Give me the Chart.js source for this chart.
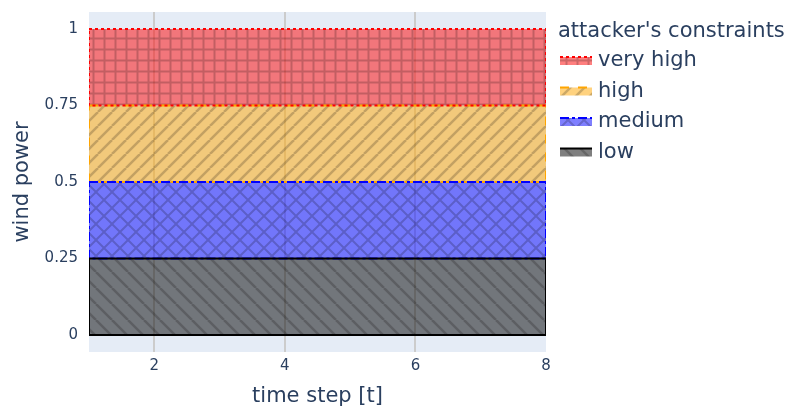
<!DOCTYPE html>
<html>
<head>
<meta charset="utf-8">
<script src="https://cdn.jsdelivr.net/npm/chart.js@4.4.0/dist/chart.umd.min.js"></script>
<style>
  body { margin: 0; background: #fff; }
</style>
</head>
<body>
<canvas id="myChart" width="793" height="408"></canvas>
<script>
// data
var timeSteps = [1, 2, 3, 4, 5, 6, 7, 8];
var baseLine = [0, 0, 0, 0, 0, 0, 0, 0];
var lowValues = [0.25, 0.25, 0.25, 0.25, 0.25, 0.25, 0.25, 0.25];
var mediumValues = [0.5, 0.5, 0.5, 0.5, 0.5, 0.5, 0.5, 0.5];
var highValues = [0.75, 0.75, 0.75, 0.75, 0.75, 0.75, 0.75, 0.75];
var veryHighValues = [1, 1, 1, 1, 1, 1, 1, 1];
var levelNames = ['very high', 'high', 'medium', 'low'];
var xTicks = [2, 4, 6, 8];
var yTicks = [0, 0.25, 0.5, 0.75, 1];
var yTickLabels = ['0', '0.25', '0.5', '0.75', '1'];

var textColor = '#2a3f5f';
var fontFamily = "'DejaVu Sans', Verdana, sans-serif";

// pattern tiles like plotly fillpattern
function makePattern(base, shape, size, lw) {
  var c = document.createElement('canvas');
  c.width = size; c.height = size;
  var g = c.getContext('2d');
  g.fillStyle = base;
  g.fillRect(0, 0, size, size);
  g.strokeStyle = 'rgba(0,0,0,0.2)';
  g.lineWidth = lw;
  g.beginPath();
  if (shape === '+') {
    g.moveTo(size / 2, 0); g.lineTo(size / 2, size);
    g.moveTo(0, size / 2); g.lineTo(size, size / 2);
  }
  if (shape === '/' || shape === 'x') {
    for (var k = -size; k <= size; k += size) {
      g.moveTo(k, size); g.lineTo(k + size, 0);
    }
  }
  if (shape === '\\' || shape === 'x') {
    for (var k2 = -size; k2 <= size; k2 += size) {
      g.moveTo(k2, 0); g.lineTo(k2 + size, size);
    }
  }
  g.stroke();
  return g.createPattern(c, 'repeat');
}

// closed band between two value rows
function band(upper, lower) {
  var pts = [];
  for (var i = 0; i < timeSteps.length; i++) pts.push({x: timeSteps[i], y: upper[i]});
  for (var j = timeSteps.length - 1; j >= 0; j--) pts.push({x: timeSteps[j], y: lower[j]});
  pts.push({x: timeSteps[0], y: upper[0]});
  return pts;
}

var datasets = [
  {
    label: levelNames[0],
    data: band(veryHighValues, highValues),
    backgroundColor: makePattern('rgba(255,0,0,0.5)', '+', 11, 2),
    borderColor: '#ff0000',
    borderDash: [3, 3],
    order: 2
  },
  {
    label: levelNames[1],
    data: band(highValues, mediumValues),
    backgroundColor: makePattern('rgba(255,165,0,0.5)', '/', 14, 2.5),
    borderColor: '#ffa500',
    borderDash: [9, 9],
    order: 3
  },
  {
    label: levelNames[2],
    data: band(mediumValues, lowValues),
    backgroundColor: makePattern('rgba(0,0,255,0.5)', 'x', 16, 2),
    borderColor: '#0000ff',
    borderDash: [9, 3, 3, 3],
    order: 1
  },
  {
    label: levelNames[3],
    data: band(lowValues, baseLine),
    backgroundColor: makePattern('rgba(0,0,0,0.5)', '\\', 16, 2.5),
    borderColor: '#000000',
    borderDash: [],
    order: 0
  }
];
datasets.forEach(function (d) {
  d.showLine = true;
  d.fill = 'shape';
  d.borderWidth = 2;
  d.pointRadius = 0;
  d.tension = 0;
  d.clip = 0;
});

// plot background
var plotBg = {
  id: 'plotBg',
  beforeDraw: function (chart) {
    var a = chart.chartArea, ctx = chart.ctx;
    ctx.save();
    ctx.fillStyle = '#E5ECF6';
    ctx.fillRect(a.left, a.top, a.right - a.left, a.bottom - a.top);
    ctx.restore();
  }
};

// legend drawn by hand so it sits where plotly puts it
var sideLegend = {
  id: 'sideLegend',
  afterDraw: function (chart) {
    var ctx = chart.ctx;
    ctx.save();
    ctx.font = '21px ' + fontFamily;
    ctx.fillStyle = textColor;
    ctx.textBaseline = 'middle';
    ctx.fillText("attacker's constraints", 558, 32);
    chart.data.datasets.forEach(function (ds, i) {
      var cy = 61 + i * 30.5;
      ctx.fillStyle = ds.backgroundColor;
      ctx.fillRect(560, cy - 4, 32, 8);
      ctx.strokeStyle = ds.borderColor;
      ctx.lineWidth = 2;
      ctx.setLineDash(ds.borderDash);
      ctx.beginPath();
      ctx.moveTo(560, cy - 4);
      ctx.lineTo(592, cy - 4);
      ctx.stroke();
      ctx.setLineDash([]);
      ctx.fillStyle = textColor;
      ctx.fillText(ds.label, 598, cy);
    });
    ctx.restore();
  }
};

var ctx = document.getElementById('myChart').getContext('2d');
var chart = new Chart(ctx, {
  type: 'scatter',
  data: { datasets: datasets },
  plugins: [plotBg, sideLegend],
  options: {
    responsive: false,
    animation: false,
    events: [],
    layout: { padding: { left: 0, right: 247, top: 12, bottom: 0 } },
    plugins: {
      legend: { display: false },
      tooltip: { enabled: false },
      filler: { drawTime: 'beforeDatasetsDraw' }
    },
    scales: {
      x: {
        type: 'linear',
        min: 1,
        max: 8,
        afterBuildTicks: function (s) { s.ticks = xTicks.map(function (v) { return {value: v}; }); },
        afterFit: function (s) { s.height = 56; },
        border: { display: false },
        grid: {
          drawTicks: false,
          lineWidth: 2,
          color: function (c) { return c.tick && c.tick.value === 8 ? 'rgba(0,0,0,0)' : '#cccccc'; }
        },
        ticks: { color: textColor, font: { size: 15, family: fontFamily }, padding: 5, maxRotation: 0 },
        title: { display: true, text: 'time step [t]', color: textColor, font: { size: 21, family: fontFamily, lineHeight: 1.1 }, padding: { top: 0, bottom: 0 } }
      },
      y: {
        type: 'linear',
        min: -0.0556,
        max: 1.0556,
        afterBuildTicks: function (s) { s.ticks = yTicks.map(function (v) { return {value: v}; }); },
        afterFit: function (s) { s.width = 89; },
        border: { display: false },
        grid: { display: false },
        ticks: {
          color: textColor,
          font: { size: 15, family: fontFamily },
          padding: 3,
          callback: function (v) { return yTickLabels[yTicks.indexOf(v)]; }
        },
        title: { display: true, text: 'wind power', color: textColor, font: { size: 21, family: fontFamily }, padding: { top: 10, bottom: 0 } }
      }
    }
  }
});
</script>
</body>
</html>
